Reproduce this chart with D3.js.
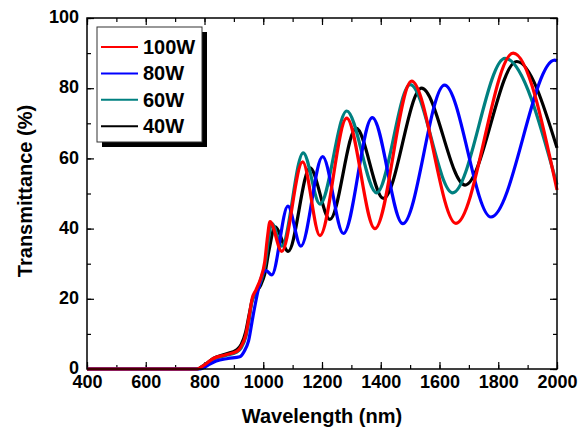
<!DOCTYPE html>
<html>
<head>
<meta charset="utf-8">
<script src="https://cdn.jsdelivr.net/npm/d3@7"></script>
<style>
  body { margin: 0; background: #fff; }
  text { font-family: "Liberation Sans", Arial, sans-serif; font-weight: bold; }
</style>
</head>
<body>
<div id="chart"></div>
<script>
// wavelength (nm), transmittance (%)
const w100 = [[400,0],[775,0],[800,1.2],[830,3],[870,4],[910,5],[925,6.5],[940,9.5],[952,15],[962,20],[975,22.5],[990,25.5],[1005,30.5],[1015,38],[1023,42],[1063,33.5],[1134,59],[1193,38],[1284,71.5],[1380,40],[1505,82],[1656,41.5],[1851,90],[2000,51]];
const w80 = [[400,0],[785,0],[810,1],[840,2.3],[880,3],[920,3.5],[935,5],[950,8],[965,15],[983,22.6],[1000,27.5],[1010,28],[1029,26.8],[1084,46.4],[1128,35],[1202,60.5],[1273,38.6],[1371,71.6],[1475,41.4],[1617,80.9],[1775,43.3],[1992,88],[2000,87.8]];
const w60 = [[400,0],[775,0],[800,1.1],[830,2.8],[870,3.8],[910,4.8],[925,6],[940,9],[952,14],[962,19.5],[977,22],[992,25],[1007,30],[1018,37],[1029,41.5],[1063,35],[1136,61.6],[1193,47],[1284,73.5],[1386,50.2],[1500,81],[1645,50.2],[1823,88.5],[2000,52.5]];
const w40 = [[400,0],[775,0],[800,1.2],[830,3],[870,4.2],[910,5.5],[925,7],[940,10.5],[952,15.5],[962,19.5],[977,22],[992,24],[1005,27],[1020,34],[1040,40.5],[1085,33.5],[1159,57.3],[1227,42.6],[1316,68.6],[1409,48.6],[1539,80],[1687,52.4],[1863,87.6],[2000,63]];

const seriesNames = ["100W", "80W", "60W", "40W"];
const seriesData = [w100, w80, w60, w40];
const seriesColors = ["#ff0000", "#0000ff", "#008080", "#000000"];
const drawOrder = [3, 2, 1, 0];

const xTicks = d3.range(400, 2001, 200);
const xMinor = d3.range(400, 2001, 100);
const yTicks = d3.range(0, 101, 20);
const yMinor = d3.range(0, 101, 10);

const width = 579, height = 432;
const plotLeft = 87, plotRight = 557, plotTop = 18, plotBottom = 369;

const svg = d3.select("#chart").append("svg")
  .attr("width", width)
  .attr("height", height);

const x = d3.scaleLinear().domain([400, 2000]).range([plotLeft, plotRight]);
const y = d3.scaleLinear().domain([0, 100]).range([plotBottom, plotTop]);

function tickAxis(axis, t) {
  const g = svg.append("g").attr("transform", t).call(axis);
  g.select(".domain").remove();
  g.selectAll(".tick line").attr("stroke", "#000").attr("stroke-width", 1.2);
  g.selectAll(".tick text")
    .attr("fill", "#000")
    .style("font-size", "18px")
    .style("font-family", '"Liberation Sans", Arial, sans-serif');
  return g;
}
// minor ticks (all four sides, pointing in)
tickAxis(d3.axisBottom(x).tickValues(xMinor).tickSize(-4).tickFormat(""), `translate(0,${plotBottom})`);
tickAxis(d3.axisTop(x).tickValues(xMinor).tickSize(-4).tickFormat(""), `translate(0,${plotTop})`);
tickAxis(d3.axisLeft(y).tickValues(yMinor).tickSize(-4).tickFormat(""), `translate(${plotLeft},0)`);
tickAxis(d3.axisRight(y).tickValues(yMinor).tickSize(-4).tickFormat(""), `translate(${plotRight},0)`);

// major ticks with labels
tickAxis(d3.axisBottom(x).tickValues(xTicks).tickSize(-7).tickPadding(6).tickFormat(d3.format("d")), `translate(0,${plotBottom})`);
tickAxis(d3.axisTop(x).tickValues(xTicks).tickSize(-7).tickFormat(""), `translate(0,${plotTop})`);
const yAx = tickAxis(d3.axisLeft(y).tickValues(yTicks).tickSize(-7).tickPadding(8).tickFormat(d3.format("d")), `translate(${plotLeft},0)`);
tickAxis(d3.axisRight(y).tickValues(yTicks).tickSize(-7).tickFormat(""), `translate(${plotRight},0)`);
yAx.selectAll(".tick text").attr("dy", "0.26em");

// curves
const line = d3.line()
  .x(d => x(d[0]))
  .y(d => y(d[1]))
  .curve(d3.curveMonotoneX);

svg.append("g")
  .selectAll("path")
  .data(drawOrder)
  .join("path")
  .attr("fill", "none")
  .attr("stroke", i => seriesColors[i])
  .attr("stroke-width", 3.2)
  .attr("d", i => line(seriesData[i]));

// frame
svg.append("rect")
  .attr("x", plotLeft).attr("y", plotTop)
  .attr("width", plotRight - plotLeft).attr("height", plotBottom - plotTop)
  .attr("fill", "none").attr("stroke", "#000").attr("stroke-width", 1.5);

// legend
const legend = svg.append("g").attr("transform", "translate(97,27)");
legend.append("rect")
  .attr("x", 5).attr("y", 5).attr("width", 105).attr("height", 115)
  .attr("fill", "#000");
legend.append("rect")
  .attr("x", 0).attr("y", 0).attr("width", 105).attr("height", 115)
  .attr("fill", "#fff").attr("stroke", "#333").attr("stroke-width", 1);

const item = legend.selectAll(".item")
  .data(seriesNames)
  .join("g")
  .attr("class", "item")
  .attr("transform", (d, i) => `translate(0,${20 + i * 26.4})`);
item.append("line")
  .attr("x1", 4).attr("x2", 41)
  .attr("stroke", (d, i) => seriesColors[i])
  .attr("stroke-width", 2);
item.append("text")
  .attr("x", 46).attr("y", 7)
  .attr("font-size", 20)
  .text(d => d);

// axis titles
svg.append("text")
  .attr("x", (plotLeft + plotRight) / 2).attr("y", 423)
  .attr("text-anchor", "middle")
  .attr("font-size", 20)
  .text("Wavelength (nm)");

svg.append("text")
  .attr("transform", "translate(32,191) rotate(-90)")
  .attr("text-anchor", "middle")
  .attr("font-size", 20)
  .text("Transmittance (%)");
</script>
</body>
</html>
